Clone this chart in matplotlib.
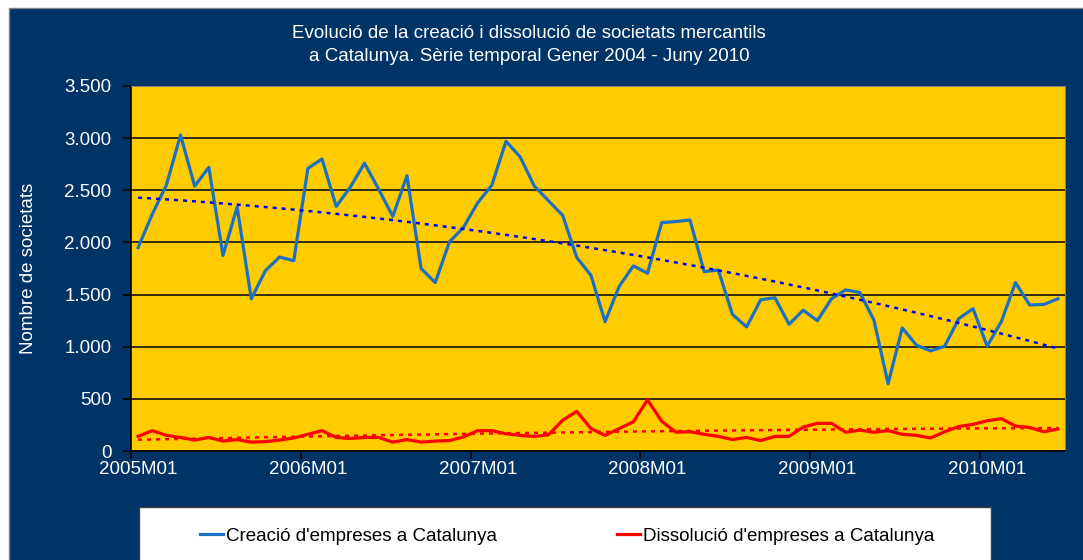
import numpy as np
import matplotlib
matplotlib.use("Agg")
import matplotlib.pyplot as plt
from matplotlib.patches import Rectangle
from matplotlib.lines import Line2D
from matplotlib.ticker import FixedLocator, FuncFormatter

# monthly series 2005M01 .. 2010M06
years = [2005, 2006, 2007, 2008, 2009, 2010]
months = [f"{y}M{m:02d}" for y in years for m in range(1, 13)][:66]

creacio = [1950, 2270, 2550, 3030, 2540, 2720, 1875, 2340, 1460, 1730, 1860, 1825,
           2710, 2800, 2345, 2530, 2760, 2510, 2250, 2640, 1750, 1615, 2005, 2145,
           2380, 2550, 2970, 2820, 2540, 2400, 2260, 1855, 1685, 1240, 1580, 1775,
           1705, 2190, 2200, 2215, 1720, 1735, 1310, 1190, 1450, 1470, 1215, 1350,
           1250, 1460, 1545, 1520, 1255, 645, 1180, 1015, 960, 1005, 1270, 1365,
           1005, 1240, 1615, 1400, 1405, 1460]

dissolucio = [140, 195, 150, 130, 105, 130, 95, 110, 85, 90, 105, 125,
              160, 195, 130, 120, 130, 130, 85, 110, 85, 95, 100, 135,
              195, 195, 165, 150, 140, 155, 295, 380, 215, 150, 215, 280,
              490, 285, 180, 185, 160, 140, 110, 130, 100, 140, 140, 230,
              265, 265, 180, 200, 180, 195, 160, 150, 125, 185, 235, 255,
              290, 310, 240, 225, 185, 210]

labels = ["Creació d'empreses a Catalunya", "Dissolució d'empreses a Catalunya"]
title = ("Evolució de la creació i dissolució de societats mercantils\n"
         "a Catalunya. Sèrie temporal Gener 2004 - Juny 2010")

NAVY = "#003366"
YELLOW = "#FFCC00"
BLUE = "#1C70C4"
RED = "#FF0000"
FS = 13.5

plt.rcParams['font.family'] = ['Liberation Sans', 'DejaVu Sans']

W, H = 1083, 560
fig = plt.figure(figsize=(W / 100, H / 100), dpi=100, facecolor="white")
fig.patches.append(Rectangle((9 / W, -0.1), 1.1, (H - 8) / H + 0.1, transform=fig.transFigure,
                             facecolor=NAVY, edgecolor="#808080", lw=1, zorder=-10))

ax = fig.add_axes([131 / W, 1 - 451 / H, (1065 - 131) / W, (451 - 86) / H])
ax.set_facecolor(YELLOW)

x = np.arange(len(months))
ax.plot(x, creacio, color=BLUE, lw=2.3, zorder=3)
ax.plot(x, dissolucio, color=RED, lw=2.3, zorder=3)

# polynomial (order 2) trend lines
for s, c in [(creacio, "#0000FF"), (dissolucio, RED)]:
    p = np.polyfit(x, s, 2)
    ax.plot(x, np.polyval(p, x), color=c, lw=1.8, ls=(0, (1.6, 2.0)), zorder=4)

ax.set_xlim(-0.5, len(months) - 0.5)
ax.set_ylim(0, 3500)
ax.set_yticks(np.arange(0, 3501, 500))
ax.yaxis.set_major_formatter(FuncFormatter(lambda v, p: f"{int(v):,}".replace(",", ".")))
ax.grid(axis="y", color="#111111", lw=1.2)
ax.set_axisbelow(True)

# ticks between categories, labels on category centres
ax.xaxis.set_major_locator(FixedLocator(np.arange(-0.5, len(months), 12)))
ax.xaxis.set_minor_locator(FixedLocator(np.arange(0, len(months), 12)))
ax.set_xticklabels([""] * len(ax.get_xticks()))
ax.set_xticklabels([months[i] for i in range(0, len(months), 12)], minor=True)
ax.tick_params(axis="x", which="minor", length=0, pad=7, labelsize=FS, labelcolor="white")
ax.tick_params(axis="x", which="major", length=6, width=1.2, color="black")
ax.tick_params(axis="y", length=6, width=1.2, color="black", labelsize=FS,
               labelcolor="white", pad=8)

for side in ["top", "right"]:
    ax.spines[side].set_color("#808080")
for side in ["left", "bottom"]:
    ax.spines[side].set_color("black")
    ax.spines[side].set_linewidth(1.2)

ax.set_ylabel("Nombre de societats", color="white", fontsize=FS)
ax.yaxis.set_label_coords(-(131 - 37) / (1065 - 131), 0.5)

fig.text(529 / W, 1 - 45 / H, title, ha="center", va="center", color="white",
         fontsize=FS, linespacing=1.45)

# legend box
fig.patches.append(Rectangle((139 / W, -0.1), (991 - 139) / W, 0.1 + (H - 507) / H,
                             transform=fig.transFigure, facecolor="white",
                             edgecolor="#404040", lw=1, zorder=1))
for lab, c, xs in [(labels[0], BLUE, 200), (labels[1], RED, 617)]:
    fig.legend([Line2D([], [], color=c, lw=2.3)], [lab], loc="center left",
               bbox_to_anchor=(xs / W, 1 - 536 / H), frameon=False, fontsize=FS,
               handlelength=1.2, handletextpad=0.2, borderpad=0, borderaxespad=0)

fig.savefig("out.png", dpi=100, facecolor=fig.get_facecolor())
